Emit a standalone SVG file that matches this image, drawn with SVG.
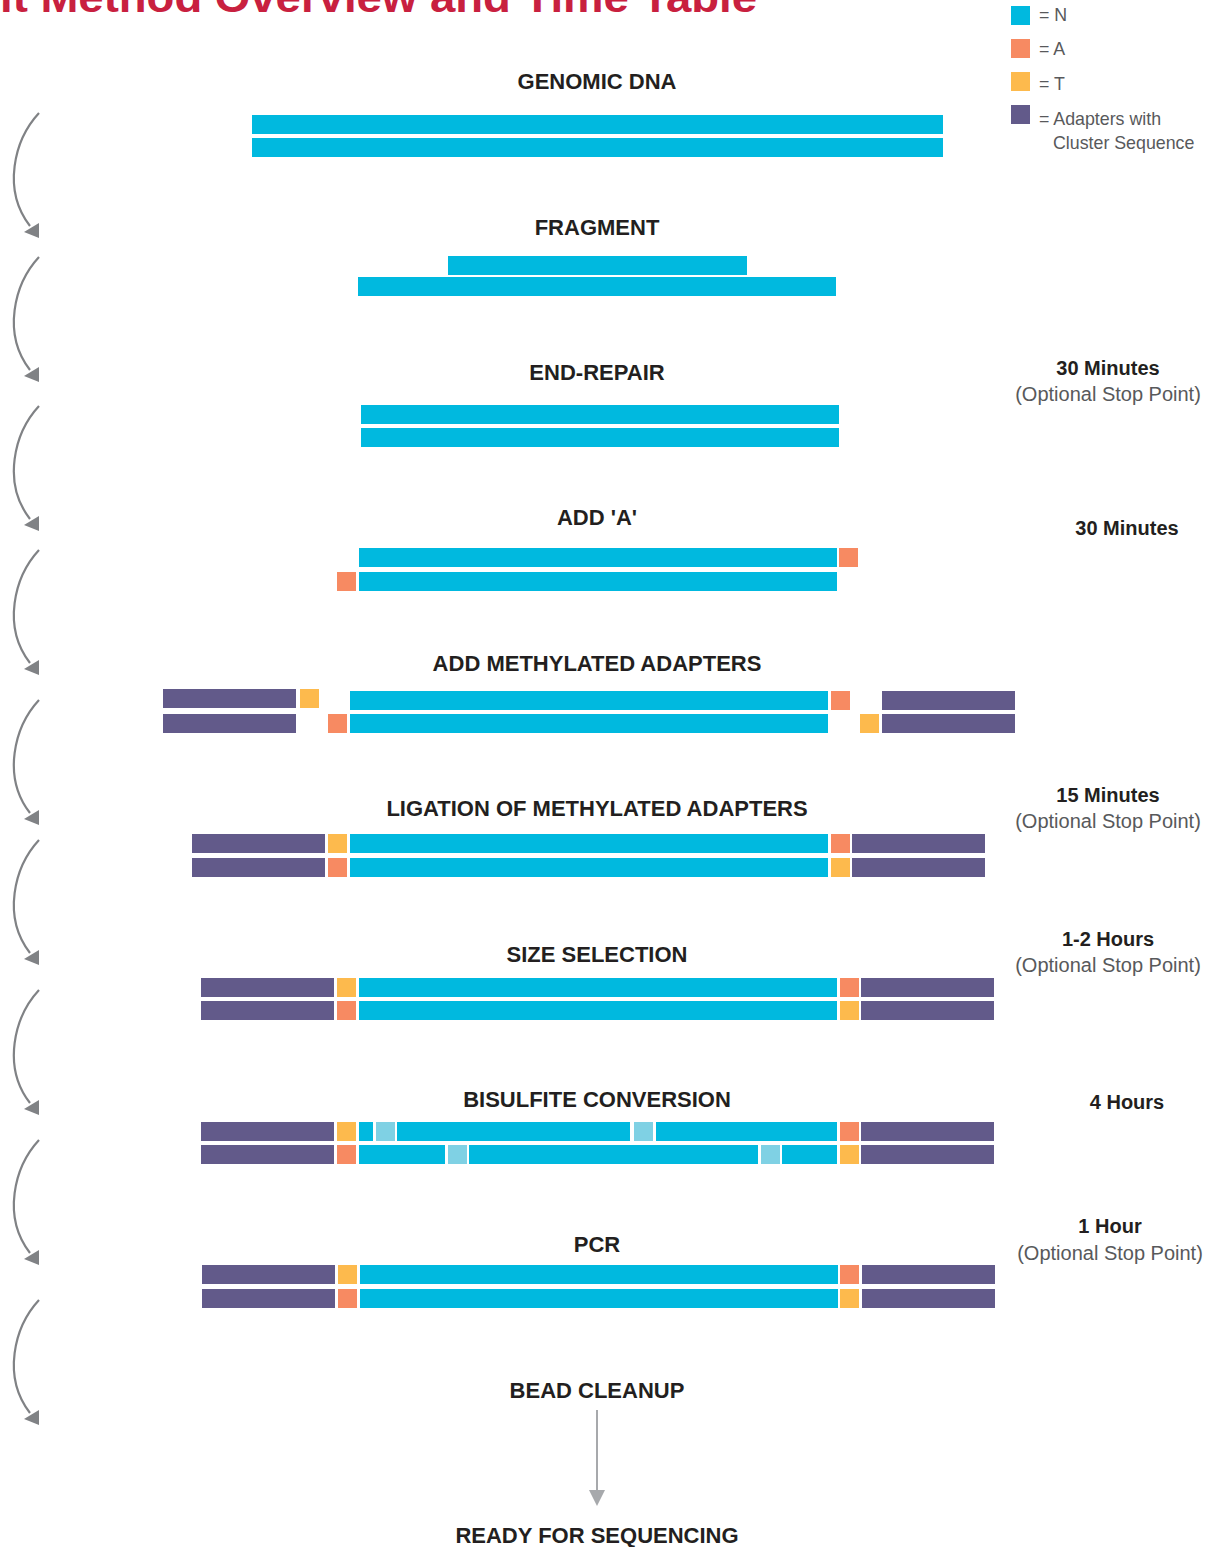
<svg xmlns="http://www.w3.org/2000/svg" width="1212" height="1547" viewBox="0 0 1212 1547">
<style>
.n{fill:#00B9DF}.a{fill:#F78A62}.t{fill:#FDBA4D}.p{fill:#625A8A}.l{fill:#7FD1E4}
.lab{font-family:"Liberation Sans",Arial,sans-serif;font-weight:bold;font-size:22px;fill:#231F20;text-anchor:middle}
.tm{font-family:"Liberation Sans",Arial,sans-serif;font-weight:bold;font-size:20px;fill:#231F20;text-anchor:middle}
.op{font-family:"Liberation Sans",Arial,sans-serif;font-size:20px;fill:#58595B;text-anchor:middle}
.lg{font-family:"Liberation Sans",Arial,sans-serif;font-size:17.8px;fill:#58595B}
.arc{fill:none;stroke:#808285;stroke-width:2.2}
.ah{fill:#808285}
</style>
<defs>
<g id="carr"><path class="arc" d="M39,0 C14,27 2,77 30,113"/><polygon class="ah" points="24,119 39,110 39,125"/></g>
</defs>
<rect width="1212" height="1547" fill="#fff"/>
<text x="0" y="12" font-family="Liberation Sans,Arial,sans-serif" font-weight="bold" font-size="42" fill="#C8203F" textLength="757" lengthAdjust="spacingAndGlyphs">it Method Overview and Time Table</text>

<g id="legend">
<rect class="n" x="1011" y="6" width="19" height="19"/><text class="lg" x="1039" y="21">= N</text>
<rect class="a" x="1011" y="39" width="19" height="19"/><text class="lg" x="1039" y="55">= A</text>
<rect class="t" x="1011" y="72" width="19" height="19"/><text class="lg" x="1039" y="90">= T</text>
<rect class="p" x="1011" y="105" width="19" height="19"/><text class="lg" x="1039" y="125">= Adapters with</text>
<text class="lg" x="1053" y="149">Cluster Sequence</text>
</g>

<g id="connectors">
<use href="#carr" y="113"/>
<use href="#carr" y="257"/>
<use href="#carr" y="406"/>
<use href="#carr" y="550"/>
<use href="#carr" y="700"/>
<use href="#carr" y="840"/>
<use href="#carr" y="990"/>
<use href="#carr" y="1140"/>
<use href="#carr" y="1300"/>
<line x1="597" y1="1410" x2="597" y2="1491" stroke="#A7A9AC" stroke-width="2"/>
<polygon points="589,1490 605,1490 597,1506" fill="#A7A9AC"/>
</g>

<g id="genomic">
<text class="lab" x="597" y="89">GENOMIC DNA</text>
<rect class="n" x="252" y="115" width="691" height="19"/>
<rect class="n" x="252" y="138" width="691" height="19"/>
</g>

<g id="fragment">
<text class="lab" x="597" y="235">FRAGMENT</text>
<rect class="n" x="448" y="256" width="299" height="19"/>
<rect class="n" x="358" y="277" width="478" height="19"/>
</g>

<g id="endrepair">
<text class="lab" x="597" y="380">END-REPAIR</text>
<rect class="n" x="361" y="405" width="478" height="19"/>
<rect class="n" x="361" y="428" width="478" height="19"/>
<text class="tm" x="1108" y="375">30 Minutes</text>
<text class="op" x="1108" y="401">(Optional Stop Point)</text>
</g>

<g id="adda">
<text class="lab" x="597" y="525">ADD 'A'</text>
<rect class="n" x="359" y="548" width="478" height="19"/>
<rect class="a" x="839" y="548" width="19" height="19"/>
<rect class="a" x="337" y="572" width="19" height="19"/>
<rect class="n" x="359" y="572" width="478" height="19"/>
<text class="tm" x="1127" y="535">30 Minutes</text>
</g>

<g id="addadapters">
<text class="lab" x="597" y="671">ADD METHYLATED ADAPTERS</text>
<rect class="p" x="163" y="689" width="133" height="19"/>
<rect class="t" x="300" y="689" width="19" height="19"/>
<rect class="n" x="350" y="691" width="478" height="19"/>
<rect class="a" x="831" y="691" width="19" height="19"/>
<rect class="p" x="882" y="691" width="133" height="19"/>
<rect class="p" x="163" y="714" width="133" height="19"/>
<rect class="a" x="328" y="714" width="19" height="19"/>
<rect class="n" x="350" y="714" width="478" height="19"/>
<rect class="t" x="860" y="714" width="19" height="19"/>
<rect class="p" x="882" y="714" width="133" height="19"/>
</g>

<g id="ligation">
<text class="lab" x="597" y="816">LIGATION OF METHYLATED ADAPTERS</text>
<rect class="p" x="192" y="834" width="133" height="19"/>
<rect class="t" x="328" y="834" width="19" height="19"/>
<rect class="n" x="350" y="834" width="478" height="19"/>
<rect class="a" x="831" y="834" width="19" height="19"/>
<rect class="p" x="852" y="834" width="133" height="19"/>
<rect class="p" x="192" y="858" width="133" height="19"/>
<rect class="a" x="328" y="858" width="19" height="19"/>
<rect class="n" x="350" y="858" width="478" height="19"/>
<rect class="t" x="831" y="858" width="19" height="19"/>
<rect class="p" x="852" y="858" width="133" height="19"/>
<text class="tm" x="1108" y="802">15 Minutes</text>
<text class="op" x="1108" y="828">(Optional Stop Point)</text>
</g>

<g id="sizeselection">
<text class="lab" x="597" y="962">SIZE SELECTION</text>
<rect class="p" x="201" y="978" width="133" height="19"/>
<rect class="t" x="337" y="978" width="19" height="19"/>
<rect class="n" x="359" y="978" width="478" height="19"/>
<rect class="a" x="840" y="978" width="19" height="19"/>
<rect class="p" x="861" y="978" width="133" height="19"/>
<rect class="p" x="201" y="1001" width="133" height="19"/>
<rect class="a" x="337" y="1001" width="19" height="19"/>
<rect class="n" x="359" y="1001" width="478" height="19"/>
<rect class="t" x="840" y="1001" width="19" height="19"/>
<rect class="p" x="861" y="1001" width="133" height="19"/>
<text class="tm" x="1108" y="946">1-2 Hours</text>
<text class="op" x="1108" y="972">(Optional Stop Point)</text>
</g>

<g id="bisulfite">
<text class="lab" x="597" y="1107">BISULFITE CONVERSION</text>
<rect class="p" x="201" y="1122" width="133" height="19"/>
<rect class="t" x="337" y="1122" width="19" height="19"/>
<rect class="n" x="359" y="1122" width="14" height="19"/>
<rect class="l" x="376" y="1122" width="19" height="19"/>
<rect class="n" x="397" y="1122" width="233" height="19"/>
<rect class="l" x="634" y="1122" width="19" height="19"/>
<rect class="n" x="656" y="1122" width="181" height="19"/>
<rect class="a" x="840" y="1122" width="19" height="19"/>
<rect class="p" x="861" y="1122" width="133" height="19"/>
<rect class="p" x="201" y="1145" width="133" height="19"/>
<rect class="a" x="337" y="1145" width="19" height="19"/>
<rect class="n" x="359" y="1145" width="86" height="19"/>
<rect class="l" x="448" y="1145" width="19" height="19"/>
<rect class="n" x="469" y="1145" width="289" height="19"/>
<rect class="l" x="761" y="1145" width="19" height="19"/>
<rect class="n" x="782" y="1145" width="55" height="19"/>
<rect class="t" x="840" y="1145" width="19" height="19"/>
<rect class="p" x="861" y="1145" width="133" height="19"/>
<text class="tm" x="1127" y="1109">4 Hours</text>
</g>

<g id="pcr">
<text class="lab" x="597" y="1252">PCR</text>
<rect class="p" x="202" y="1265" width="133" height="19"/>
<rect class="t" x="338" y="1265" width="19" height="19"/>
<rect class="n" x="360" y="1265" width="478" height="19"/>
<rect class="a" x="840" y="1265" width="19" height="19"/>
<rect class="p" x="862" y="1265" width="133" height="19"/>
<rect class="p" x="202" y="1289" width="133" height="19"/>
<rect class="a" x="338" y="1289" width="19" height="19"/>
<rect class="n" x="360" y="1289" width="478" height="19"/>
<rect class="t" x="840" y="1289" width="19" height="19"/>
<rect class="p" x="862" y="1289" width="133" height="19"/>
<text class="tm" x="1110" y="1233">1 Hour</text>
<text class="op" x="1110" y="1260">(Optional Stop Point)</text>
</g>

<g id="beadcleanup">
<text class="lab" x="597" y="1398">BEAD CLEANUP</text>
</g>

<g id="ready">
<text class="lab" x="597" y="1543">READY FOR SEQUENCING</text>
</g>
</svg>
